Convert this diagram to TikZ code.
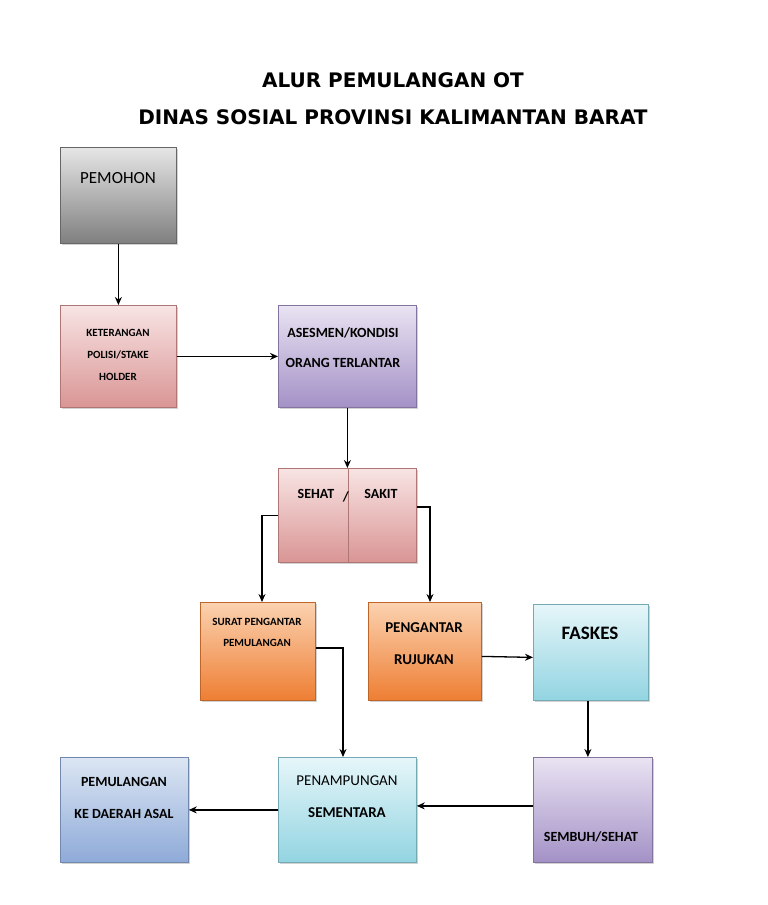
\documentclass[tikz,border=0pt]{standalone}
\usepackage{fontspec}
\setmainfont{Carlito}
\newfontfamily\titlefont{DejaVu Sans}
\usetikzlibrary{shadows,arrows.meta}
\definecolor{gA}{HTML}{E6E6E6}\definecolor{gB}{HTML}{7F7F7F}
\definecolor{pA}{HTML}{F8E4E4}\definecolor{pB}{HTML}{D99594}
\definecolor{vA}{HTML}{E9E3F2}\definecolor{vB}{HTML}{A391C6}
\definecolor{oA}{HTML}{FBD2B0}\definecolor{oB}{HTML}{EE7E33}
\definecolor{cA}{HTML}{E6F6F9}\definecolor{cB}{HTML}{92D4E1}
\definecolor{bA}{HTML}{DCE6F3}\definecolor{bB}{HTML}{8EAAD8}
\tikzset{
 box/.style={draw=#1B!80!black,line width=0.8pt,top color=#1A,bottom color=#1B,anchor=north west,inner sep=0pt,
   drop shadow={shadow xshift=2pt,shadow yshift=-2pt,fill=black!35}},
 lbl/.style={font=\bfseries,align=center,inner sep=0pt},
 arr/.style={-{Stealth[length=8pt,width=7pt]},line width=1.3pt},
}
\begin{document}
\begin{tikzpicture}[x=1pt,y=-1pt]
\useasboundingbox (0,0) rectangle (768,905);
\node[font=\titlefont\bfseries\fontsize{20}{24}\selectfont] (t1) at (393,80) {ALUR PEMULANGAN OT};
\node[font=\titlefont\bfseries\fontsize{20}{24}\selectfont] (t2) at (393,117) {DINAS SOSIAL PROVINSI KALIMANTAN BARAT};
% boxes
\node[box=g,minimum width=116pt,minimum height=96pt] (pem) at (60,147) {};
\node[font=\fontsize{17}{20}\selectfont] at (118,178) {PEMOHON};
\node[box=p,minimum width=116pt,minimum height=102pt] (ket) at (60,305) {};
\node[lbl,font=\bfseries\fontsize{11}{22}\selectfont] at (118,355) {KETERANGAN\\POLISI/STAKE\\HOLDER};
\node[box=v,minimum width=138pt,minimum height=102pt] (ase) at (278,305) {};
\node[lbl,font=\bfseries\fontsize{14}{30}\selectfont] at (343,348) {ASESMEN/KONDISI\\ORANG TERLANTAR};
\node[box=p,minimum width=138pt,minimum height=94pt] (sh) at (278,468) {};
\draw[pB!80!black] (348,468)--(348,562);
\node[lbl,font=\bfseries\fontsize{14}{16}\selectfont] at (316,494) {SEHAT};
\node[lbl,font=\bfseries\fontsize{14}{16}\selectfont] at (346,497) {/};
\node[lbl,font=\bfseries\fontsize{14}{16}\selectfont] at (381,494) {SAKIT};
\node[box=o,minimum width=115pt,minimum height=98pt] (sur) at (200,602) {};
\node[lbl,font=\bfseries\fontsize{11}{21}\selectfont] at (257,632) {SURAT PENGANTAR\\PEMULANGAN};
\node[box=o,minimum width=113pt,minimum height=98pt] (rjk) at (368,602) {};
\node[lbl,font=\bfseries\fontsize{15}{32}\selectfont] at (424,644) {PENGANTAR\\RUJUKAN};
\node[box=c,minimum width=115pt,minimum height=96pt] (fas) at (533,604) {};
\node[lbl,font=\bfseries\fontsize{19}{22}\selectfont] at (590,633) {FASKES};
\node[box=b,minimum width=128pt,minimum height=105pt] (plg) at (60,757) {};
\node[lbl,font=\bfseries\fontsize{14}{32}\selectfont] at (124,798) {PEMULANGAN\\KE DAERAH ASAL};
\node[box=c,minimum width=138pt,minimum height=105pt] (pnp) at (278,757) {};
\node[lbl,font=\fontsize{15}{32}\selectfont] at (347,797) {PENAMPUNGAN\\\textbf{SEMENTARA}};
\node[box=v,minimum width=119pt,minimum height=105pt] (smb) at (533,757) {};
\node[lbl,font=\bfseries\fontsize{14}{16}\selectfont] at (591,837) {SEMBUH/SEHAT};
% connectors
\draw[arr] (pem.south) -- (ket.north);
\draw[arr] (ket.east) -- (ase.west);
\draw[arr] (ase.south) -- (sh.north);
\draw[arr] (sh.west) -- ++(-16,0) -| ([xshift=62pt]sur.north west);
\draw[arr] ([yshift=-39pt]sh.north east) -- ++(14,0) -| ([xshift=62pt]rjk.north west);
\draw[arr] ([yshift=-46pt]sur.north east) -- ++(28,0) -| ([xshift=65pt]pnp.north west);
\draw[arr] ([yshift=-5pt]rjk.east) -- ([yshift=-5pt]fas.west);
\draw[arr] ([xshift=-3pt]fas.south) -- ([xshift=-3pt]fas.south |- smb.north);
\draw[arr] ([yshift=4pt]smb.west) -- ([yshift=4pt]pnp.east);
\draw[arr] (pnp.west) -- (plg.east);
\end{tikzpicture}
\end{document}
